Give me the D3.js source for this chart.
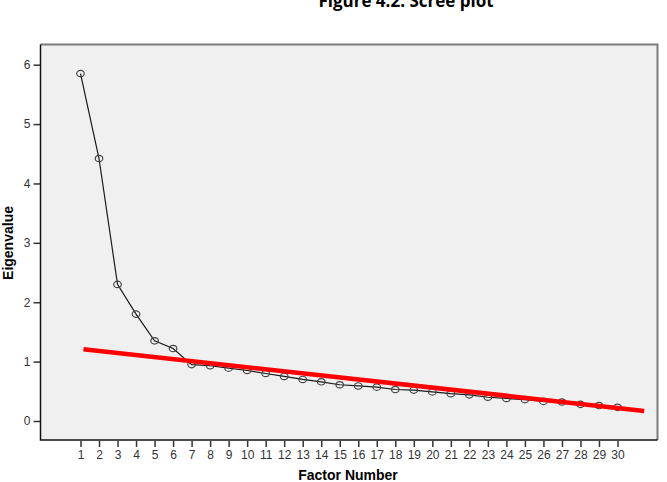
<!DOCTYPE html>
<html>
<head>
<meta charset="utf-8">
<script src="https://cdn.jsdelivr.net/npm/d3@7/dist/d3.min.js"></script>
<style>
  html, body { margin: 0; padding: 0; background: #ffffff; }
  svg { display: block; }
</style>
</head>
<body>
<script>
const title = "Figure 4.2: Scree plot";
const xLabel = "Factor Number";
const yLabel = "Eigenvalue";
const factors = d3.range(1, 31);
const eigenvalues = [5.85, 4.42, 2.30, 1.80, 1.35, 1.22, 0.95, 0.93, 0.89, 0.85,
                     0.80, 0.75, 0.70, 0.66, 0.61, 0.59, 0.57, 0.53, 0.52, 0.49,
                     0.46, 0.44, 0.40, 0.38, 0.36, 0.33, 0.32, 0.28, 0.26, 0.23];
const yTicks = [0, 1, 2, 3, 4, 5, 6];
const trendX = [1.16, 31.44];
const trendY = [1.21, 0.17];

const W = 667, H = 482;
const box = { left: 40.5, right: 657.5, top: 44.5, bottom: 440 };

const svg = d3.select("body").append("svg").attr("width", W).attr("height", H);

const x = d3.scaleLinear().domain([-1.16, 32.16]).range([box.left, box.right]);
const y = d3.scaleLinear().domain([-0.32, 6.34]).range([box.bottom, box.top]);

// title (partly cut off at top, as in the reference)
svg.append("text")
  .attr("x", 406).attr("y", 7)
  .attr("text-anchor", "middle")
  .attr("font-family", "'Open Sans', Carlito, Calibri, sans-serif")
  .attr("font-weight", "bold")
  .attr("font-size", 17)
  .attr("fill", "#000")
  .text(title);

// plot background
svg.append("rect")
  .attr("x", box.left).attr("y", box.top)
  .attr("width", box.right - box.left).attr("height", box.bottom - box.top)
  .attr("fill", "#f0f0f0");

// top & right border
svg.append("path")
  .attr("d", `M${box.left},${box.top}H${box.right}V${box.bottom}`)
  .attr("fill", "none").attr("stroke", "#7a7a7a").attr("stroke-width", 2);

// axes
const xAxis = d3.axisBottom(x).tickValues(factors).tickFormat(d3.format("d"))
  .tickSize(6).tickSizeOuter(0).tickPadding(3);
const gx = svg.append("g").attr("transform", `translate(0,${box.bottom + 1})`).call(xAxis);
gx.select(".domain").remove();
gx.selectAll(".tick line").attr("stroke", "#333").attr("stroke-width", 1.5);
gx.selectAll(".tick text")
  .attr("font-family", "'Liberation Sans', Arial, sans-serif")
  .attr("font-size", 12).attr("fill", "#333");

const yAxis = d3.axisLeft(y).tickValues(yTicks).tickFormat(d3.format("d"))
  .tickSize(7).tickSizeOuter(0).tickPadding(3);
const gy = svg.append("g").attr("transform", `translate(${box.left},0)`).call(yAxis);
gy.select(".domain").remove();
gy.selectAll(".tick line").attr("stroke", "#333").attr("stroke-width", 1.5);
gy.selectAll(".tick text")
  .attr("font-family", "'Liberation Sans', Arial, sans-serif")
  .attr("font-size", 12).attr("fill", "#333");

// axis lines (left & bottom)
svg.append("path")
  .attr("d", `M${box.left},${box.top}V${box.bottom}H${box.right}`)
  .attr("fill", "none").attr("stroke", "#111").attr("stroke-width", 1.5);

// axis titles
svg.append("text")
  .attr("x", 348).attr("y", 480)
  .attr("text-anchor", "middle")
  .attr("font-family", "'Liberation Sans', Arial, sans-serif")
  .attr("font-weight", "bold").attr("font-size", 14)
  .text(xLabel);

svg.append("text")
  .attr("transform", "translate(13,243) rotate(-90)")
  .attr("text-anchor", "middle")
  .attr("font-family", "'Liberation Sans', Arial, sans-serif")
  .attr("font-weight", "bold").attr("font-size", 14)
  .text(yLabel);

// scree line
const line = d3.line().x((d, i) => x(factors[i])).y(d => y(d));
svg.append("path")
  .datum(eigenvalues)
  .attr("d", line)
  .attr("fill", "none").attr("stroke", "#1a1a1a").attr("stroke-width", 1.2);

// points
svg.selectAll("ellipse.pt")
  .data(eigenvalues)
  .join("ellipse")
  .attr("class", "pt")
  .attr("cx", (d, i) => x(factors[i]))
  .attr("cy", d => y(d))
  .attr("rx", 3.8).attr("ry", 3.2)
  .attr("fill", "none").attr("stroke", "#444").attr("stroke-width", 1.2);

// red trend line
svg.append("line")
  .attr("x1", x(trendX[0])).attr("y1", y(trendY[0]))
  .attr("x2", x(trendX[1])).attr("y2", y(trendY[1]))
  .attr("stroke", "#ff0000").attr("stroke-width", 4.5);
</script>
</body>
</html>
